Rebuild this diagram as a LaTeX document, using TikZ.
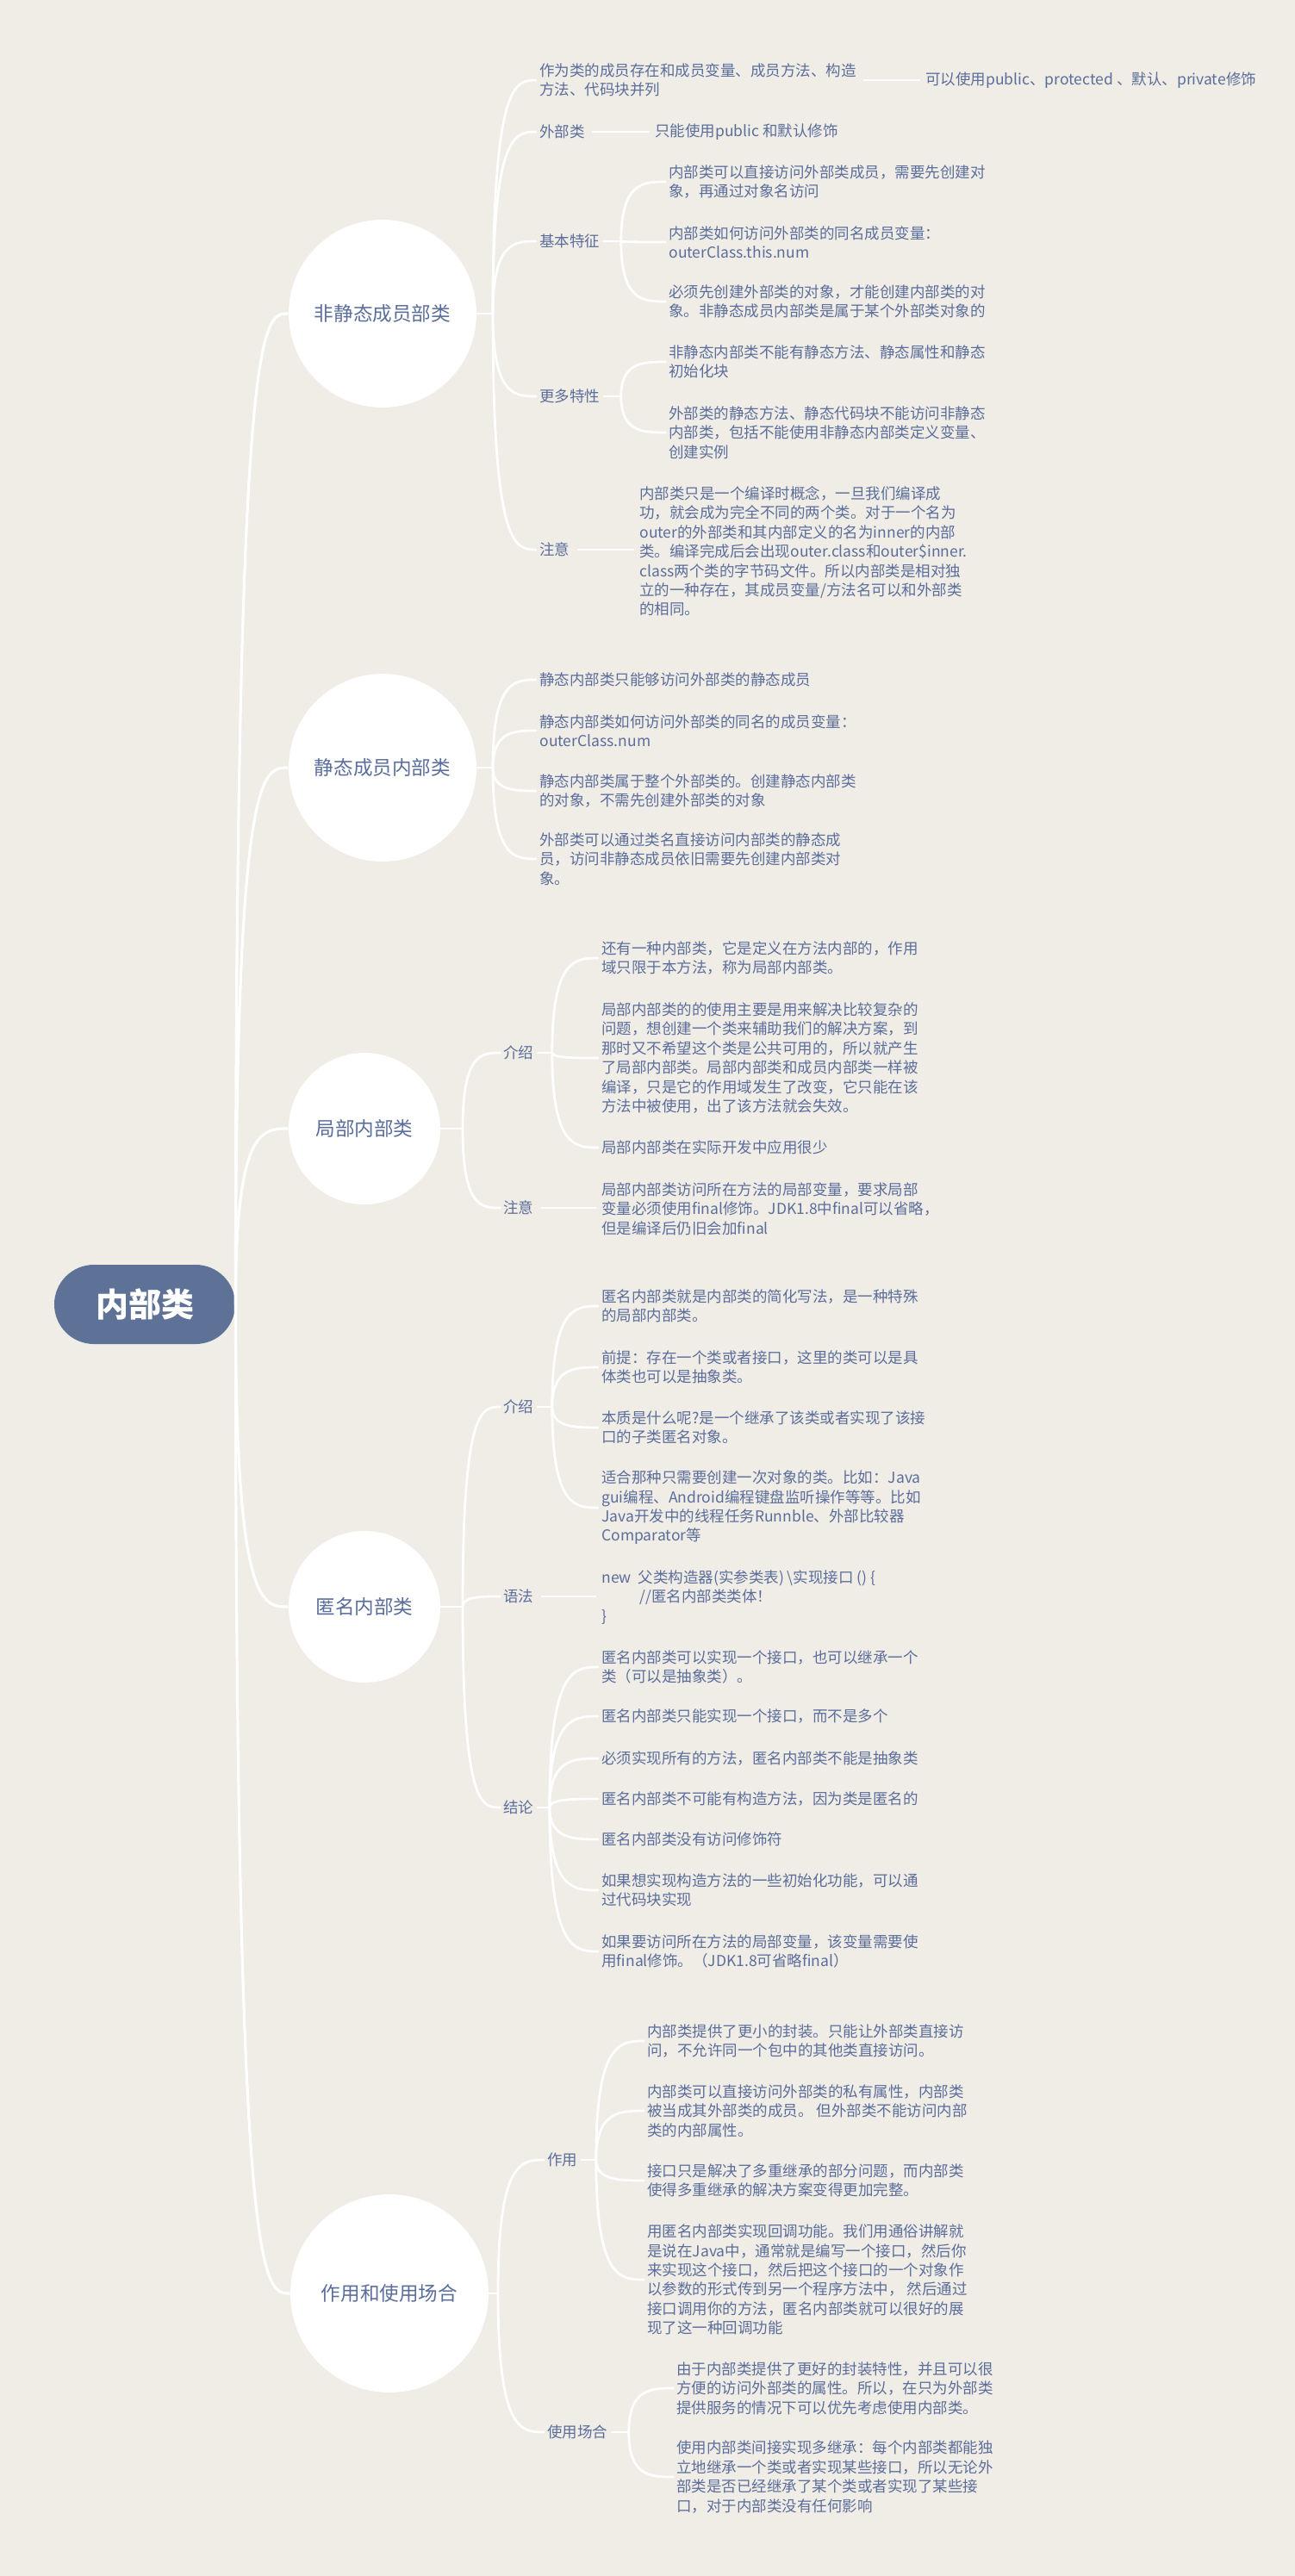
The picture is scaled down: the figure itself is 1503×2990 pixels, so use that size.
\documentclass[tikz,border=0pt]{standalone}
\usepackage{fontspec}
\setmainfont{Noto Sans CJK SC}
\newfontfamily\cjk{Noto Sans CJK SC}
\usetikzlibrary{calc}
\definecolor{bg}{HTML}{F0ECE6}
\definecolor{txt}{HTML}{5B6E9B}
\definecolor{rootc}{HTML}{5E7297}
\tikzset{
 body/.style={font=\cjk\fontsize{8.75}{11.2}\selectfont, text=txt, align=left, anchor=west, inner sep=1.5pt},
 circ/.style={circle, fill=white, font=\cjk\fontsize{11.3}{14}\selectfont, text=txt, inner sep=0pt},
 rootbox/.style={rectangle, rounded corners=23pt, fill=rootc, minimum width=105pt, minimum height=46pt, text=white, font=\bfseries\fontsize{19}{23}\selectfont},
 conn/.style={draw=white, line width=1.4pt},
 mainconn/.style={draw=white, line width=1.6pt},
 sconn/.style={draw=white, line width=1.4pt, shorten <=2.5pt, shorten >=1.5pt},
}
\newcommand\cc[3][conn]{\draw[#1] (#2) .. controls (#2 |- #3) and ($(#2 |- #3)!0.5!(#3)$) .. (#3);}
\begin{document}
\begin{tikzpicture}[x=0.5pt,y=-0.5pt]
\fill[bg] (0,0) rectangle (1503,2990);
\useasboundingbox (0,0) rectangle (1503,2990);

% root and circles
\node[rootbox] (root) at (168,1514) {内部类};
\node[circ, minimum size=109pt] (c1) at (444,364) {非静态成员部类};
\node[circ, minimum size=109pt] (c2) at (444,891) {静态成员内部类};
\node[circ, minimum size=88pt] (c3) at (423,1310) {局部内部类};
\node[circ, minimum size=88pt] (c4) at (423,1865) {匿名内部类};
\node[circ, minimum size=115pt] (c5) at (452,2662) {作用和使用场合};

\coordinate (bp1) at (572,364);
\coordinate (bp2) at (572,891);
\coordinate (bp3) at (537,1310);
\coordinate (bp4) at (537,1865);
\coordinate (bp5) at (578,2662);

% ---------- branch 1
\node[body] (n11) at (623,93) {作为类的成员存在和成员变量、成员方法、构造\\方法、代码块并列};
\node[body] (n111) at (1071,93) {可以使用public、protected 、默认、private修饰};
\node[body] (n12) at (623,153) {外部类};
\node[body] (n121) at (757,153) {只能使用public 和默认修饰};
\node[body] (n13) at (623,280) {基本特征};
\node[body] (n131) at (773,211) {内部类可以直接访问外部类成员，需要先创建对\\象，再通过对象名访问};
\node[body] (n132) at (773,281) {内部类如何访问外部类的同名成员变量：\\outerClass.this.num};
\node[body] (n133) at (773,350) {必须先创建外部类的对象，才能创建内部类的对\\象。非静态成员内部类是属于某个外部类对象的};
\node[body] (n14) at (623,460) {更多特性};
\node[body] (n141) at (773,420) {非静态内部类不能有静态方法、静态属性和静态\\初始化块};
\node[body] (n142) at (773,502) {外部类的静态方法、静态代码块不能访问非静态\\内部类，包括不能使用非静态内部类定义变量、\\创建实例};
\node[body] (n15) at (623,638) {注意};
\node[body] (n151) at (739,640) {内部类只是一个编译时概念，一旦我们编译成\\功，就会成为完全不同的两个类。对于一个名为\\outer的外部类和其内部定义的名为inner的内部\\类。编译完成后会出现outer.class和outer\$inner.\\class两个类的字节码文件。所以内部类是相对独\\立的一种存在，其成员变量/方法名可以和外部类\\的相同。};

% ---------- branch 2
\node[body] (n21) at (623,789) {静态内部类只能够访问外部类的静态成员};
\node[body] (n22) at (623,848) {静态内部类如何访问外部类的同名的成员变量：\\outerClass.num};
\node[body] (n23) at (623,918) {静态内部类属于整个外部类的。创建静态内部类\\的对象，不需先创建外部类的对象};
\node[body] (n24) at (623,997) {外部类可以通过类名直接访问内部类的静态成\\员，访问非静态成员依旧需要先创建内部类对\\象。};

% ---------- branch 3
\node[body] (n31) at (581,1222) {介绍};
\node[body] (n311) at (695,1112) {还有一种内部类，它是定义在方法内部的，作用\\域只限于本方法，称为局部内部类。};
\node[body] (n312) at (695,1228) {局部内部类的的使用主要是用来解决比较复杂的\\问题，想创建一个类来辅助我们的解决方案，到\\那时又不希望这个类是公共可用的，所以就产生\\了局部内部类。局部内部类和成员内部类一样被\\编译，只是它的作用域发生了改变，它只能在该\\方法中被使用，出了该方法就会失效。};
\node[body] (n313) at (695,1332) {局部内部类在实际开发中应用很少};
\node[body] (n32) at (581,1402) {注意};
\node[body] (n321) at (695,1403) {局部内部类访问所在方法的局部变量，要求局部\\变量必须使用final修饰。JDK1.8中final可以省略，\\但是编译后仍旧会加final};

% ---------- branch 4
\node[body] (n41) at (581,1633) {介绍};
\node[body] (n411) at (695,1516) {匿名内部类就是内部类的简化写法，是一种特殊\\的局部内部类。};
\node[body] (n412) at (695,1587) {前提：存在一个类或者接口，这里的类可以是具\\体类也可以是抽象类。};
\node[body] (n413) at (695,1657) {本质是什么呢?是一个继承了该类或者实现了该接\\口的子类匿名对象。};
\node[body] (n414) at (695,1750) {适合那种只需要创建一次对象的类。比如：Java\\gui编程、Android编程键盘监听操作等等。比如\\Java开发中的线程任务Runnble、外部比较器\\Comparator等};
\node[body] (n42) at (581,1853) {语法};
\node[body] (n421) at (695,1854) {new\ \ 父类构造器(实参类表) \textbackslash 实现接口 () \{\\\hspace*{22pt}//匿名内部类类体！\\\}};
\node[body] (n43) at (581,2098) {结论};
\node[body] (n431) at (695,1935) {匿名内部类可以实现一个接口，也可以继承一个\\类（可以是抽象类）。};
\node[body] (n432) at (695,1992) {匿名内部类只能实现一个接口，而不是多个};
\node[body] (n433) at (695,2041) {必须实现所有的方法，匿名内部类不能是抽象类};
\node[body] (n434) at (695,2088) {匿名内部类不可能有构造方法，因为类是匿名的};
\node[body] (n435) at (695,2135) {匿名内部类没有访问修饰符};
\node[body] (n436) at (695,2194) {如果想实现构造方法的一些初始化功能，可以通\\过代码块实现};
\node[body] (n437) at (695,2265) {如果要访问所在方法的局部变量，该变量需要使\\用final修饰。（JDK1.8可省略final）};

% ---------- branch 5
\node[body] (n51) at (632,2507) {作用};
\node[body] (n511) at (748,2369) {内部类提供了更小的封装。只能让外部类直接访\\问，不允许同一个包中的其他类直接访问。};
\node[body] (n512) at (748,2450) {内部类可以直接访问外部类的私有属性，内部类\\被当成其外部类的成员。 但外部类不能访问内部\\类的内部属性。};
\node[body] (n513) at (748,2531) {接口只是解决了多重继承的部分问题，而内部类\\使得多重继承的解决方案变得更加完整。};
\node[body] (n514) at (748,2646) {用匿名内部类实现回调功能。我们用通俗讲解就\\是说在Java中，通常就是编写一个接口，然后你\\来实现这个接口，然后把这个接口的一个对象作\\以参数的形式传到另一个程序方法中， 然后通过\\接口调用你的方法，匿名内部类就可以很好的展\\现了这一种回调功能};
\node[body] (n52) at (632,2823) {使用场合};
\node[body] (n521) at (782,2772) {由于内部类提供了更好的封装特性，并且可以很\\方便的访问外部类的属性。所以，在只为外部类\\提供服务的情况下可以优先考虑使用内部类。};
\node[body] (n522) at (782,2875) {使用内部类间接实现多继承：每个内部类都能独\\立地继承一个类或者实现某些接口，所以无论外\\部类是否已经继承了某个类或者实现了某些接\\口，对于内部类没有任何影响};

% level-2 branch points
\coordinate (bp13) at ($(n13.east)+(21,0)$);
\coordinate (bp14) at ($(n14.east)+(21,0)$);
\coordinate (bp31) at ($(n31.east)+(18,0)$);
\coordinate (bp41) at ($(n41.east)+(18,0)$);
\coordinate (bp43) at ($(n43.east)+(15,0)$);
\coordinate (bp51) at ($(n51.east)+(18,0)$);
\coordinate (bp52) at ($(n52.east)+(21,0)$);

% ---------- connectors
\cc[mainconn]{root.east}{c1.west}
\cc[mainconn]{root.east}{c2.west}
\cc[mainconn]{root.east}{c3.west}
\cc[mainconn]{root.east}{c4.west}
\cc[mainconn]{root.east}{c5.west}

\draw[conn] (c1.east) -- (bp1);
\draw[conn] (c2.east) -- (bp2);
\draw[conn] (c3.east) -- (bp3);
\draw[conn] (c4.east) -- (bp4);
\draw[conn] (c5.east) -- (bp5);

\cc{bp1}{n11.west}
\cc{bp1}{n12.west}
\cc{bp1}{n13.west}
\cc{bp1}{n14.west}
\cc{bp1}{n15.west}
\draw[sconn] (n11.east) -- (n11.east -| n111.west);
\draw[sconn] (n12.east) -- (n12.east -| n121.west);
\draw[conn] (n13.east) -- (bp13);
\draw[conn] (n14.east) -- (bp14);
\draw[sconn] (n15.east) -- (n15.east -| n151.west);
\cc{bp13}{n131.west}
\cc{bp13}{n132.west}
\cc{bp13}{n133.west}
\cc{bp14}{n141.west}
\cc{bp14}{n142.west}

\cc{bp2}{n21.west}
\cc{bp2}{n22.west}
\cc{bp2}{n23.west}
\cc{bp2}{n24.west}

\cc{bp3}{n31.west}
\cc{bp3}{n32.west}
\draw[conn] (n31.east) -- (bp31);
\cc{bp31}{n311.west}
\cc{bp31}{n312.west}
\cc{bp31}{n313.west}
\draw[sconn] (n32.east) -- (n32.east -| n321.west);

\cc{bp4}{n41.west}
\cc{bp4}{n42.west}
\cc{bp4}{n43.west}
\draw[conn] (n41.east) -- (bp41);
\cc{bp41}{n411.west}
\cc{bp41}{n412.west}
\cc{bp41}{n413.west}
\cc{bp41}{n414.west}
\draw[sconn] (n42.east) -- (n42.east -| n421.west);
\draw[conn] (n43.east) -- (bp43);
\cc{bp43}{n431.west}
\cc{bp43}{n432.west}
\cc{bp43}{n433.west}
\cc{bp43}{n434.west}
\cc{bp43}{n435.west}
\cc{bp43}{n436.west}
\cc{bp43}{n437.west}

\cc{bp5}{n51.west}
\cc{bp5}{n52.west}
\draw[conn] (n51.east) -- (bp51);
\cc{bp51}{n511.west}
\cc{bp51}{n512.west}
\cc{bp51}{n513.west}
\cc{bp51}{n514.west}
\draw[conn] (n52.east) -- (bp52);
\cc{bp52}{n521.west}
\cc{bp52}{n522.west}
\end{tikzpicture}
\end{document}
